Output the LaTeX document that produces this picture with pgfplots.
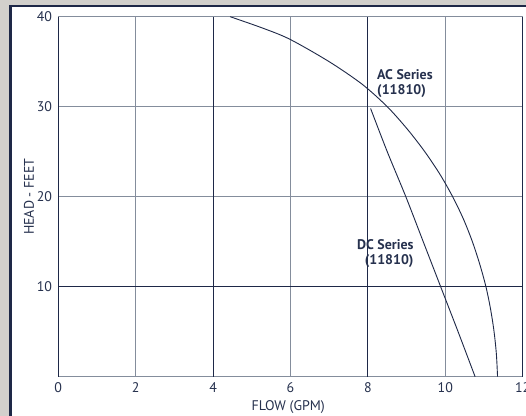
\documentclass[border=0pt]{standalone}
\usepackage{fontspec}
\setmainfont{PT Sans}
\usepackage{pgfplots}
\pgfplotsset{compat=1.18}
\definecolor{navy}{HTML}{1E2847}
\definecolor{gridgray}{HTML}{848D9C}
\definecolor{ink}{HTML}{26314E}
\definecolor{backdrop}{HTML}{D2D0CC}

\begin{document}
\begin{tikzpicture}[font=\fontsize{14}{16}\selectfont]
\useasboundingbox (0,0) rectangle (526bp,416bp);
% page background and frame
\fill[backdrop] (0,0) rectangle (526bp,416bp);
\fill[navy] (9bp,0) rectangle (526bp,411bp);
\fill[white] (12bp,0) rectangle (526bp,409bp);
\begin{axis}[
    at={(58.3bp,39.3bp)},anchor=south west,
    scale only axis,width=464.4bp,height=360bp,
    xmin=0,xmax=12,ymin=0,ymax=40,
    xtick={0,2,...,12},ytick={10,20,30,40},
    axis line style={draw=none},major tick length=0pt,
    tick label style={/pgf/number format/assume math mode=true,text=ink,inner sep=0pt},
    xticklabel style={anchor=center,yshift=-11.3bp},
    yticklabel style={anchor=east,xshift=-6bp},
    xlabel={FLOW (GPM)},ylabel={HEAD - FEET},
    label style={text=ink},
    xlabel style={at={(axis description cs:0.495,-0.0842)},anchor=center},
    ylabel style={at={(axis description cs:-0.0631,0.5)},anchor=center},
    clip=false,
]
% grid, two weights as in the original
\pgfplotsinvokeforeach{2,6,10}{\draw[gridgray,line width=1.5bp] (axis cs:#1,0) -- (axis cs:#1,40);}
\pgfplotsinvokeforeach{0,20,30,40}{\draw[gridgray,line width=1.5bp] (axis cs:0,#1) -- (axis cs:12,#1);}
\pgfplotsinvokeforeach{0,4,8,12}{\draw[navy,line width=1bp] (axis cs:#1,0) -- (axis cs:#1,40);}
\draw[navy,line width=1bp] (axis cs:0,10) -- (axis cs:12,10);

% AC series
\addplot[navy,line width=0.9bp,smooth] coordinates {
    (4.44,40) (5.27,38.75) (5.98,37.5) (7.0,35) (7.85,32.5) (8.5,30)
    (9.02,27.5) (9.47,25) (9.86,22.5) (10.19,20) (10.47,17.5) (10.70,15)
    (10.89,12.5) (11.05,10) (11.17,7.5) (11.26,5) (11.32,2.5) (11.35,0)
};
% DC series
\addplot[navy,line width=0.9bp,smooth] coordinates {
    (8.07,29.8) (8.5,25) (8.98,20) (9.43,15) (9.88,10) (10.33,5) (10.77,0)
};

\node[anchor=west,align=left,text=ink,font=\fontsize{14}{15}\selectfont\bfseries]
    at (axis cs:8.15,32.6) {AC Series\\(11810)};
\node[anchor=east,align=right,text=ink,font=\fontsize{14}{15}\selectfont\bfseries]
    at (axis cs:9.27,13.7) {DC Series\\(11810)};
\end{axis}
\end{tikzpicture}
\end{document}
